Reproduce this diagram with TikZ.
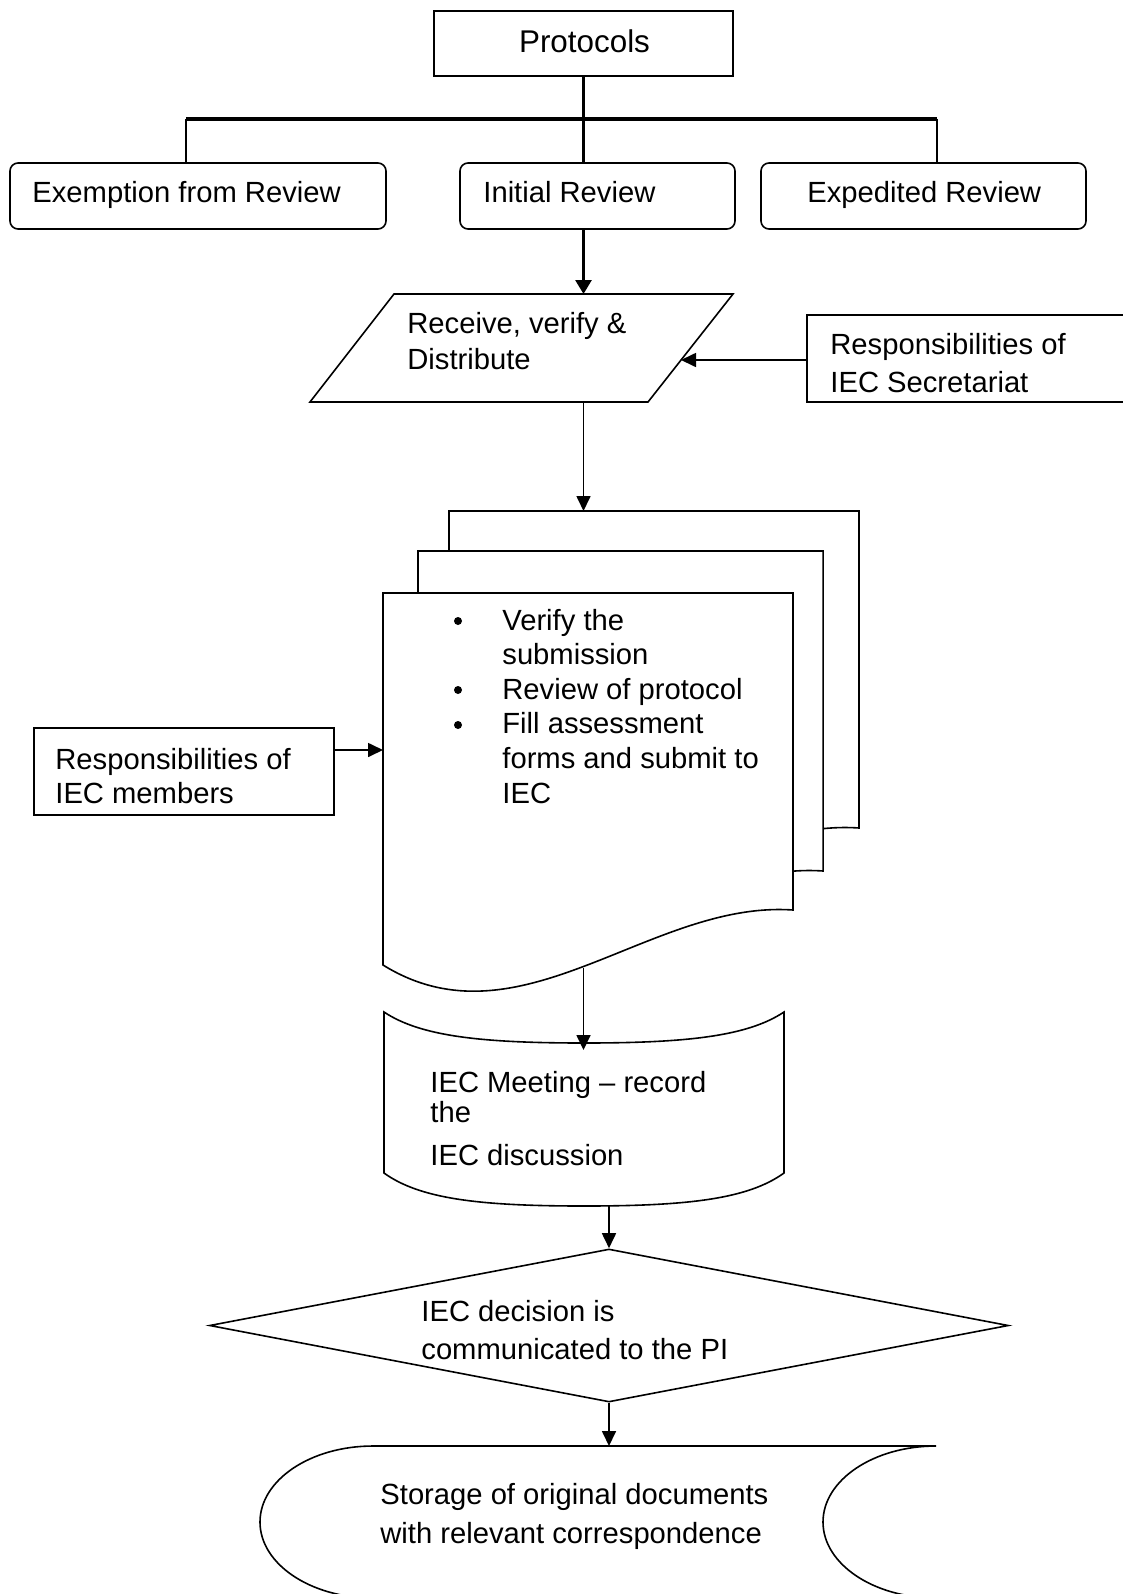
\documentclass[tikz,border=0pt]{standalone}
\usepackage{fontspec}
\setmainfont{Liberation Sans}
\usetikzlibrary{arrows.meta,shapes.geometric}
\begin{document}
\begin{tikzpicture}[x=0.5pt,y=-0.5pt,
  box/.style={draw,line width=0.8pt,inner sep=0pt},
  rbox/.style={box,rounded corners=4pt},
  lbl/.style={anchor=base west,inner sep=0pt,align=left,font=\fontsize{14.6}{18}\selectfont},
  link/.style={line width=0.85pt,-{Triangle[length=7.5pt,width=7pt]}},
  trunk/.style={line width=1.4pt},
  dot/.style={circle,fill,inner sep=0pt,minimum size=4pt},
  shp/.style={draw,line width=0.8pt,fill=white}]
\useasboundingbox (0,0) rectangle (1123,1594);
\clip (0,0) rectangle (1123,1594);

% ---- top level: protocols and the three review types
% (multi-line labels are placed by the baseline of their last line)
\node[box,minimum width=149.5pt,minimum height=32.5pt] (proto) at (583.5,43.5) {};
\node[anchor=base,inner sep=0pt,font=\fontsize{15.7}{18}\selectfont] (protoT) at (584.5,53) {Protocols};

\node[rbox,minimum width=188pt,minimum height=33pt] (exempt) at (198,196) {};
\node[lbl] (exemptT) at (32,203) {Exemption from Review};
\node[rbox,minimum width=137.5pt,minimum height=33pt] (initial) at (597.5,196) {};
\node[lbl] (initialT) at (483,203) {Initial Review};
\node[rbox,minimum width=162.5pt,minimum height=33pt] (expedited) at (923.5,196) {};
\node[lbl] (expeditedT) at (807,203) {Expedited Review};

\coordinate (bl) at (186,119);
\coordinate (br) at (937,119);
\draw[trunk] (proto.south) -- (proto.south |- bl);
\draw[line width=1.75pt] (bl) -- (br);
\draw[trunk] (bl) -- (bl |- exempt.north);
\draw[trunk] (proto.south |- bl) -- (proto.south |- initial.north);
\draw[trunk] (br) -- (br |- expedited.north);

% ---- receive, verify and distribute
\coordinate (paraTop) at (583.5,294);
\coordinate (paraRight) at (681,360);
\coordinate (paraBot) at (583.5,402);
\draw[shp] (394,294) -- (733,294) -- (648,402) -- (310,402) -- cycle;
\node[lbl] (recv) at (407,369) {Receive, verify \&\\Distribute};
\draw[trunk,-{Triangle[length=7pt,width=8pt]}] (proto.south |- initial.south) -- (paraTop);

\node[box,minimum width=166.5pt,minimum height=43.5pt] (secr) at (973.5,358.5) {};
\node[lbl,font=\fontsize{14.6}{19}\selectfont] (secrT) at (830,392) {Responsibilities of\\IEC Secretariat};
\draw[link] (secr.west |- paraRight) -- (paraRight);

% ---- stack of review documents
\coordinate (docTop) at (583.5,511);
\coordinate (docLeft) at (383,750);
\coordinate (docBot) at (583.5,968);
\draw[shp,shift={(449,511)}] (0,0) -- (410,0) -- (410,317) .. controls (267,307) and (137,457) .. (0,372) -- cycle;
\draw[shp,shift={(418,551)},xscale=0.988] (0,0) -- (410,0) -- (410,320) .. controls (267,310) and (137,460) .. (0,375) -- cycle;
\draw[shp,shift={(383,593)}] (0,0) -- (410,0) -- (410,317) .. controls (267,307) and (137,457) .. (0,372) -- cycle;
\draw[link] (paraBot) -- (docTop);

\node[dot] (b1) at (458,621) {};
\node[dot] (b2) at (458,690) {};
\node[dot] (b3) at (458,725) {};
\node[lbl,font=\fontsize{14.6}{17.3}\selectfont] (tasks) at (502,803)
  {Verify the\\submission\\Review of protocol\\Fill assessment\\forms and submit to\\IEC};

\node[box,minimum width=150pt,minimum height=43.5pt] (members) at (184,771.5) {};
\node[lbl,font=\fontsize{14.6}{17}\selectfont] (membersT) at (55,803) {Responsibilities of\\IEC members};
\draw[link] (members.east |- docLeft) -- (docLeft);

% ---- committee meeting
\coordinate (meetTop) at (583.5,1050);
\coordinate (meetBot) at (609,1206);
\draw[shp] (384,1012) .. controls (420,1036) and (480,1043) .. (584,1043)
  .. controls (688,1043) and (748,1036) .. (784,1012) -- (784,1173)
  .. controls (748,1199) and (688,1206) .. (584,1206)
  .. controls (480,1206) and (420,1199) .. (384,1173) -- cycle;
\draw[link] (docBot) -- (meetTop);
\node[lbl,font=\fontsize{14.6}{15}\selectfont] (meetT) at (430,1165)
  {IEC Meeting – record\\the\\[6.5pt]IEC discussion};

% ---- decision
\node[diamond,draw,line width=0.8pt,inner sep=0pt,minimum width=399.5pt,minimum height=76.5pt] (dec) at (609,1325.5) {};
\node[lbl,font=\fontsize{14.6}{19}\selectfont] (decT) at (421,1359) {IEC decision is\\communicated to the PI};
\draw[link] (meetBot) -- (dec.north);

% ---- storage
\coordinate (storeTop) at (609,1446);
\draw[shp] (373,1446) -- (936,1446) .. controls (873.6,1446) and (823,1480) .. (823,1522)
  .. controls (823,1564) and (873.6,1598) .. (936,1598) -- (373,1598)
  .. controls (310.6,1598) and (260,1564) .. (260,1522)
  .. controls (260,1480) and (310.6,1446) .. (373,1446) -- cycle;
\node[lbl,font=\fontsize{14.6}{19.5}\selectfont] (storeT) at (380,1543)
  {Storage of original documents\\with relevant correspondence};
\draw[link] (dec.south) -- (storeTop);
\end{tikzpicture}
\end{document}
